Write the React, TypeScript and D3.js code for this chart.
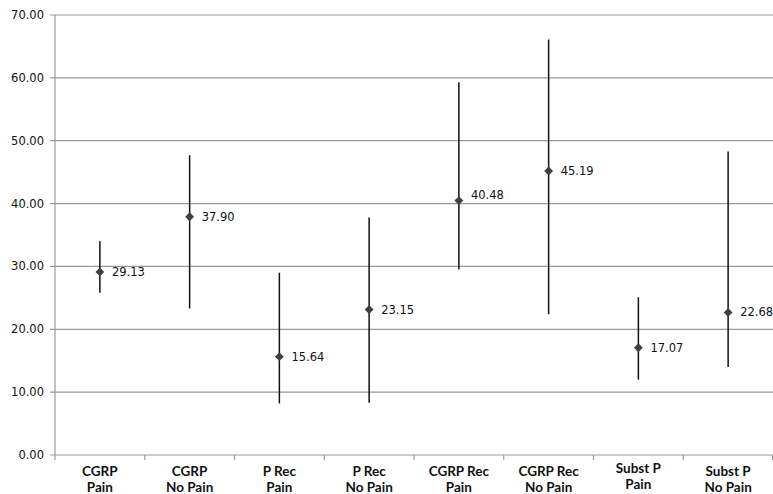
import React from "react";
import * as d3 from "d3";

const categories = [
  ["CGRP", "Pain"],
  ["CGRP", "No Pain"],
  ["P Rec", "Pain"],
  ["P Rec", "No Pain"],
  ["CGRP Rec", "Pain"],
  ["CGRP Rec", "No Pain"],
  ["Subst P", "Pain"],
  ["Subst P", "No Pain"],
];
const means = [29.13, 37.9, 15.64, 23.15, 40.48, 45.19, 17.07, 22.68];
const highs = [34.0, 47.7, 29.0, 37.8, 59.3, 66.1, 25.1, 48.3];
const lows = [25.8, 23.3, 8.2, 8.3, 29.5, 22.4, 12.0, 14.0];
const yTicks = [0, 10, 20, 30, 40, 50, 60, 70];

const W = 773;
const H = 494;
const left = 55;
const right = 773;
const top = 15;
const bottom = 455;

export default function App() {
  const x = d3.scaleBand<number>().domain(d3.range(categories.length)).range([left, right]).padding(0);
  const y = d3.scaleLinear().domain([0, 70]).range([bottom, top]);
  const diamond = d3.symbol().type(d3.symbolDiamond2).size(50)();
  const labelFont = "'DejaVu Sans', Verdana, sans-serif";
  const catFont = "Lato, 'Open Sans', sans-serif";

  return (
    <svg width={W} height={H} style={{ position: "absolute", left: 0, top: 0, background: "#fff" }}>
      {yTicks.map((t) => (
        <g key={t}>
          <line x1={left - 5} x2={right} y1={y(t)} y2={y(t)} stroke="#9a9a9a" strokeWidth={1.2} />
          <text x={44} y={y(t)} dy="0.35em" textAnchor="end" fontFamily={labelFont} fontSize={11.5} fill="#111">
            {t.toFixed(2)}
          </text>
        </g>
      ))}
      <line x1={left} x2={left} y1={top} y2={bottom} stroke="#9a9a9a" strokeWidth={1.2} />
      {d3.range(categories.length + 1).map((i) => {
        const xx = i < categories.length ? (x(i) as number) : right - 0.5;
        return <line key={i} x1={xx} x2={xx} y1={bottom} y2={bottom + 5} stroke="#9a9a9a" strokeWidth={1.2} />;
      })}
      {categories.map((c, i) => {
        const cx = (x(i) as number) + x.bandwidth() / 2;
        const shift = i === 6 ? -3 : 0;
        return (
          <text key={i} textAnchor="middle" fontFamily={catFont} fontWeight="bold" fontSize={13.5} fill="#111">
            <tspan x={cx} y={476 + shift}>{c[0]}</tspan>
            <tspan x={cx} y={492 + shift}>{c[1]}</tspan>
          </text>
        );
      })}
      {means.map((m, i) => {
        const cx = (x(i) as number) + x.bandwidth() / 2;
        const lift = i === 4 ? -6 : 0;
        return (
          <g key={i}>
            <line x1={cx} x2={cx} y1={y(highs[i])} y2={y(lows[i])} stroke="#111" strokeWidth={1.5} />
            <path d={diamond as string} transform={`translate(${cx},${y(m)})`} fill="#404040" />
            <text x={cx + 12} y={y(m) + lift} dy="0.35em" fontFamily={labelFont} fontSize={11.5} fill="#111">
              {m.toFixed(2)}
            </text>
          </g>
        );
      })}
    </svg>
  );
}
